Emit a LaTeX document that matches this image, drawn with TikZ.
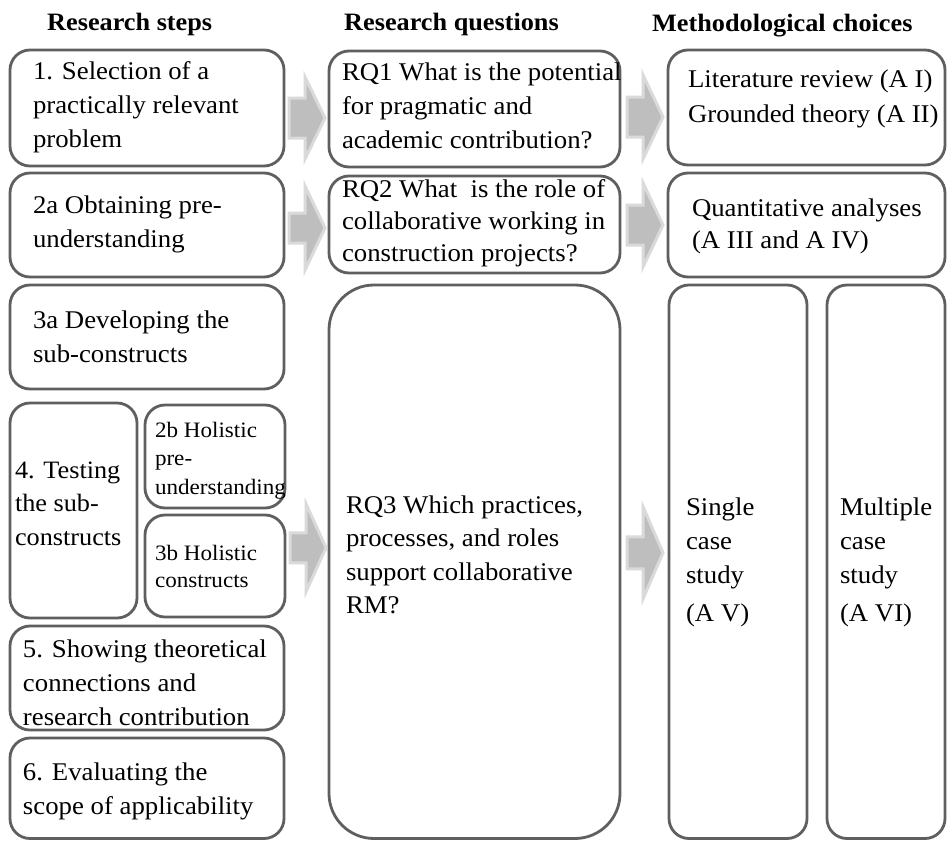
\documentclass[tikz,border=0pt]{standalone}
\usepackage{fontspec}
\setmainfont{Liberation Serif}[FakeStretch=1.05]
\usetikzlibrary{calc}

\definecolor{edgegray}{RGB}{95,95,95}
\definecolor{arrowbody}{RGB}{190,190,190}
\definecolor{arrowrim}{RGB}{218,218,218}

% left-aligned block of lines whose baseline is the first line
\newcommand\stack[1]{\begin{tabular}[t]{@{}l@{}}#1\end{tabular}}
% rounded panel given by its left, top, right and bottom edges
\newcommand\panelbox[6][]{%
  \node[panel,#1,minimum width={#5-#3},minimum height={#6-#4}] (#2)
    at ({(#3+#5)/2},{(#4+#6)/2}) {};}

\tikzset{
  panel/.style={draw=edgegray, line width=2.8pt, rounded corners=20pt,
                fill=white, inner sep=0pt, outer sep=0pt},
  big panel/.style={rounded corners=45pt},
  boxtext/.style={anchor=base west, inner sep=0pt, outer sep=0pt,
                  font=\fontsize{25.5}{34}\selectfont},
  boxtext small/.style={boxtext, font=\fontsize{22}{28.5}\selectfont},
  colhead/.style={anchor=base west, inner sep=0pt,
                  font=\bfseries\fontsize{25}{28}\selectfont},
  pics/blockarrow/.style 2 args={code={
    \path[fill=arrowbody, draw=arrowrim, line width=3pt, line join=miter]
      (0,-#1) -- (16,-#1) -- (16,-#2) -- (36,0) -- (16,#2) -- (16,#1)
      -- (0,#1) -- cycle;}}
}

\begin{document}
\begin{tikzpicture}[x=1pt, y=-1pt]
  \fill[white] (0,0) rectangle (948,841);
  \useasboundingbox (0,0) rectangle (948,841);

  % column headings
  \node[colhead] (h1) at (47,30) {Research steps};
  \node[colhead] (h2) at (344,30) {Research questions};
  \node[colhead] (h3) at (652,31) {Methodological choices};

  % research steps
  \panelbox{b1}{10}{50}{284}{166}
  \panelbox{b2a}{10}{173}{284}{277}
  \panelbox{b3a}{10}{285}{284}{389}
  \panelbox{b4}{10}{403}{137}{618}
  \panelbox{b2b}{145}{405}{285}{508}
  \panelbox{b3b}{145}{515}{285}{617}
  \panelbox{b5}{10}{626}{284}{730}
  \panelbox{b6}{10}{738}{284}{838.5}

  % research questions
  \panelbox{rq1}{329}{51}{620}{167}
  \panelbox{rq2}{329}{176}{620}{273}
  \panelbox[big panel]{rq3}{329}{285}{620}{838.5}

  % methodological choices
  \panelbox{m1}{668}{50}{945}{165}
  \panelbox{m2}{668}{173}{945}{277}
  \panelbox{m3}{669}{285}{807}{838.5}
  \panelbox{m4}{827}{285}{945}{838.5}

  % texts of the steps
  \node[boxtext] (t1) at (33,79) {\stack{1. Selection of a\\practically relevant\\problem}};
  \node[boxtext] (t2a) at (33,213) {\stack{2a Obtaining pre-\\understanding}};
  \node[boxtext] (t3a) at (33,328) {\stack{3a Developing the\\sub-constructs}};
  \node[boxtext, font=\fontsize{25}{33.5}\selectfont] (t4) at (15,478) {\stack{4. Testing\\the sub-\\constructs}};
  \node[boxtext small] (t2b) at (155,437) {\stack{2b Holistic\\pre-\\understanding}};
  \node[boxtext small, font=\fontsize{22}{27.5}\selectfont] (t3b) at (155,560) {\stack{3b Holistic\\constructs}};
  \node[boxtext] (t5) at (23,657) {\stack{5. Showing theoretical\\connections and\\research contribution}};
  \node[boxtext] (t6) at (23,780) {\stack{6. Evaluating the\\scope of applicability}};

  % texts of the questions
  \node[boxtext] (q1) at (342,80) {\stack{RQ1 What is the potential\\for pragmatic and\\academic contribution?}};
  \node[boxtext, font=\fontsize{25.5}{32}\selectfont] (q2) at (342,197) {\stack{RQ2 What\ \ is the role of\\collaborative working in\\construction projects?}};
  \node[boxtext, font=\fontsize{25.5}{33.5}\selectfont] (q3) at (346,513) {\stack{RQ3 Which practices,\\processes, and roles\\support collaborative\\RM?}};

  % texts of the methods
  \node[boxtext, font=\fontsize{25.5}{35}\selectfont] (c1) at (688,87) {\stack{Literature review (A I)\\Grounded theory (A II)}};
  \node[boxtext, font=\fontsize{25.5}{32}\selectfont] (c2) at (692,216) {\stack{Quantitative analyses\\(A III and A IV)}};
  \node[boxtext] (c3) at (686,515) {\stack{Single\\case\\study\\[4pt](A V)}};
  \node[boxtext] (c4) at (840,515) {\stack{Multiple\\case\\study\\[4pt](A VI)}};

  % block arrows from column to column
  \pic at ([shift={(5,10)}]b1.east) {blockarrow={20}{41}};
  \pic at ([shift={(5,3)}]b2a.east) {blockarrow={15}{42}};
  \pic at ([shift={(-39,-14)}]rq3.west) {blockarrow={15}{44}};
  \pic at ([shift={(7,8)}]rq1.east) {blockarrow={20}{42}};
  \pic at ([shift={(7,0.5)}]rq2.east) {blockarrow={20}{42}};
  \pic at ([shift={(7,-9)}]rq3.east) {blockarrow={16}{46}};
\end{tikzpicture}
\end{document}
